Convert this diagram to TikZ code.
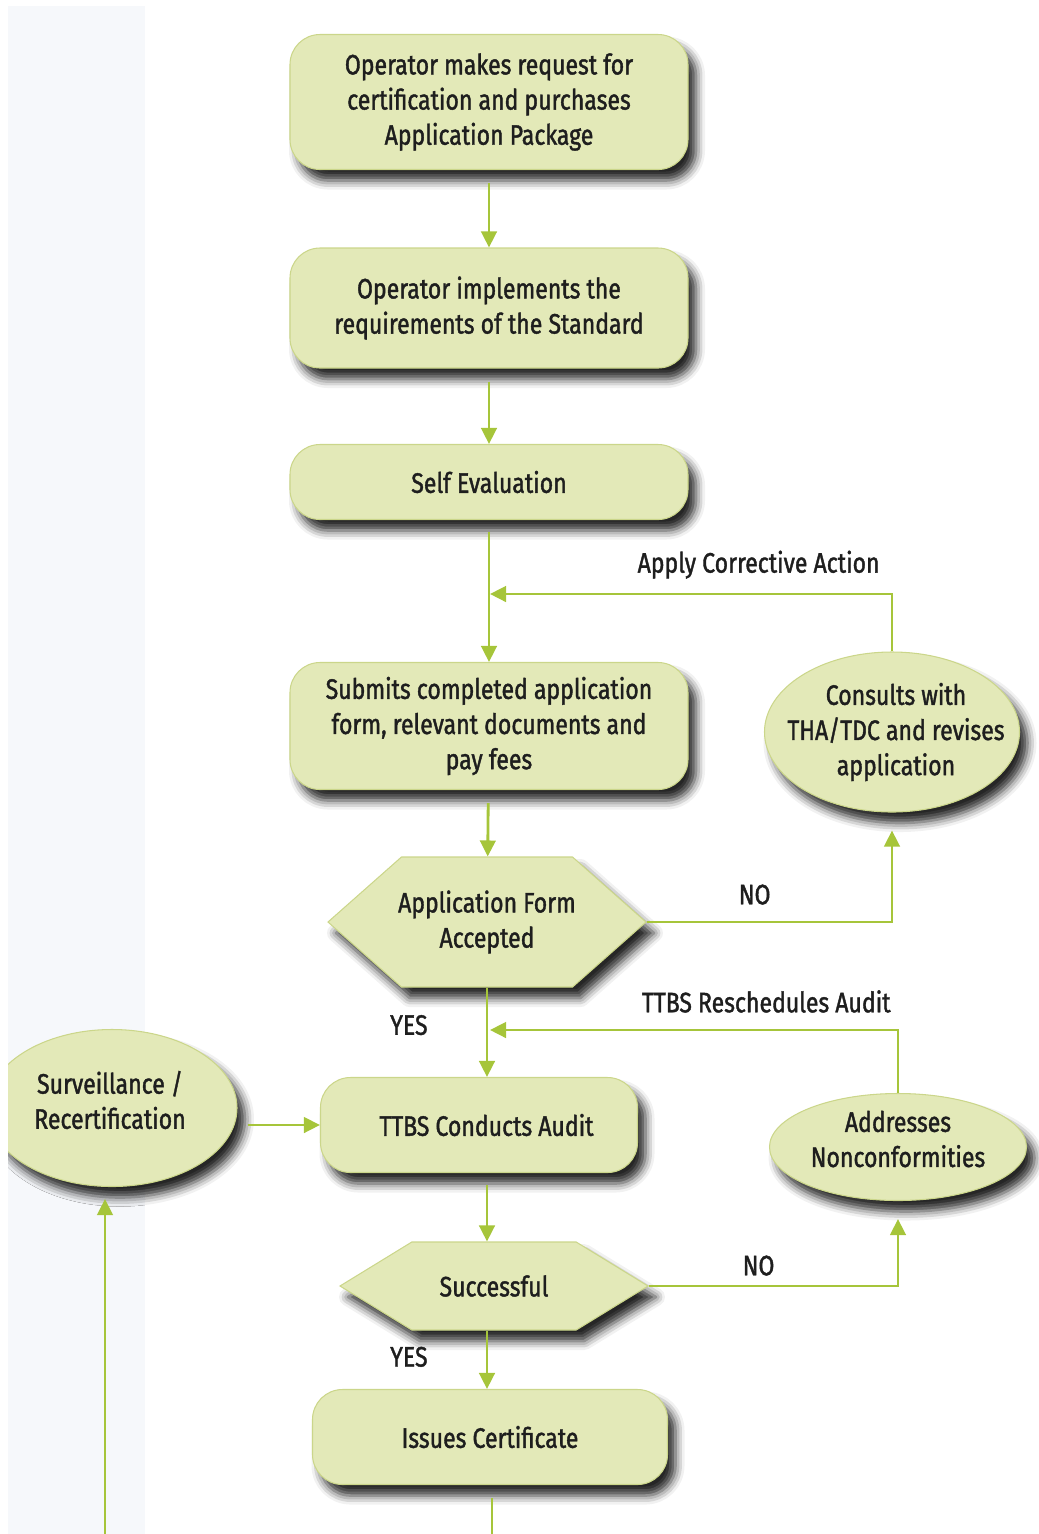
\documentclass[tikz,border=0pt]{standalone}
\usepackage{fontspec}
\setmainfont{Fira Sans}[FakeStretch=0.82, FakeBold=1.4]
\usepackage{tikz}
\usetikzlibrary{arrows.meta, positioning, calc, shapes.geometric, shapes.symbols, shadows.blur}

\definecolor{boxfill}{RGB}{227,233,184}
\definecolor{boxline}{RGB}{203,214,138}
\definecolor{flowgreen}{RGB}{166,197,58}
\definecolor{stripbg}{RGB}{246,248,251}
\definecolor{ink}{RGB}{30,30,30}

\newcommand{\chartfont}{\fontsize{16}{20}\selectfont}

\tikzset{
  shade/.style={blur shadow={shadow xshift=1.6mm, shadow yshift=-2.2mm, shadow blur radius=1.8mm, shadow opacity=85}},
  stepbox/.style={rectangle, rounded corners=6mm, fill=boxfill, draw=boxline, line width=0.6pt, shade,
    minimum width=79.6mm, align=center, text=ink, font=\chartfont},
  oval/.style={ellipse, fill=boxfill, draw=boxline, line width=0.6pt, shade, inner sep=0pt},
  decision/.style={signal, signal to=west and east, fill=boxfill, draw=boxline, line width=0.6pt, shade,
    align=center, text=ink, font=\chartfont},
  flow/.style={draw=flowgreen, line width=1.6pt, -{Triangle[length=3.2mm, width=3.1mm]}},
  lbl/.style={text=ink, font=\chartfont, inner sep=1.2mm, align=center},
}

\begin{document}
\begin{tikzpicture}[x=0.2mm, y=-0.2mm]
    \useasboundingbox (0,0) rectangle (1039,1534);
    \pgfmathsetmacro{\spine}{487}

  % faint strip on the left
    \fill[stripbg] (8,6) rectangle (145,1534);

  \begin{scope}
    \clip (8,0) rectangle (1039,1534);

  % main column
    \node[stepbox, minimum height=27mm] (req) at (489,102) {Operator makes request for\\certification and purchases\\Application Package};
    \node[stepbox, minimum height=24mm] (impl) at (489,308) {Operator implements the\\requirements of the Standard};
    \node[stepbox, minimum height=15mm] (selfeval) at (489,482) {Self Evaluation};
    \node[stepbox, minimum height=25.4mm] (submit) at (489,726) {Submits completed application\\form, relevant documents and\\pay fees};
    \node[decision, minimum width=63.6mm, minimum height=26mm, signal pointer angle=83, inner xsep=-1.1mm] (accepted) at (\spine,922) {Application Form\\Accepted};
    \node[stepbox, minimum width=63.4mm, minimum height=19mm] (audit) at (479,1125) {\hspace*{3mm}TTBS Conducts Audit};
    \node[decision, minimum width=61.6mm, minimum height=17.6mm, signal pointer angle=63] (success) at (494,1286) {Successful};
    \node[stepbox, minimum width=71mm, minimum height=19mm] (cert) at (490,1437) {Issues Certificate};

  % side loops
    \node[oval, minimum width=51mm, minimum height=32mm] (consult) at (892,732) {};
    \node[lbl] (consulttext) at ($(consult)+(4,0)$) {Consults with\\THA/TDC and revises\\application};
    \node[oval, minimum width=51.4mm, minimum height=21.4mm] (fix) at (898,1147) {};
    \node[lbl] (fixtext) at ($(fix)+(0,-8)$) {Addresses\\Nonconformities};
    \node[oval, minimum width=50mm, minimum height=31.4mm] (recert) at (112,1108) {};
    \node[lbl] (recerttext) at ($(recert)+(-2,-8)$) {Surveillance /\\Recertification};

    \coordinate (corr) at (\spine+3,594);
    \coordinate (resched) at (\spine+3,1030);
    \coordinate (certout) at (492,1534);
    \coordinate (recin) at (105,1534);

  % connectors
    \draw[flow, shorten <=2.6mm] (req) -- (impl);
    \draw[flow, shorten <=2.6mm] (impl) -- (selfeval);
    \draw[flow, shorten <=2.4mm] (selfeval) -- (submit);
    \draw[flow, shorten <=2.6mm] (submit) -- (accepted);
    \draw[flow, shorten >=3.6mm] (accepted.east) -| (consult.south) node[lbl, pos=0.22, above, yshift=2mm] {NO};
    \draw[flow] (consult.north) |- (corr) node[lbl, pos=0.5, anchor=south east, inner sep=1.2mm, yshift=1.6mm, xshift=-1mm] {Apply Corrective Action};
    \draw[flow] (accepted.south) -- (audit.north -| accepted.south) node[lbl, pos=0.42, left=10.4mm] {YES};
    \draw[flow] (fix.north) |- (resched) node[lbl, pos=0.5, anchor=south east, inner sep=1.2mm, yshift=2mm] {TTBS Reschedules Audit};
    \draw[flow, shorten <=2mm] (recert.east |- audit.west) -- (audit.west);
    \draw[flow, shorten <=2.4mm] (audit.south -| accepted.south) -- (success.north -| accepted.south);
    \draw[flow, shorten >=3.6mm] (success.east) -| (fix.south) node[lbl, pos=0.22, above, yshift=0.6mm] {NO};
    \draw[flow] (success.south -| accepted.south) -- (cert.north -| accepted.south) node[lbl, pos=0.45, left=10.4mm] {YES};
    \draw[draw=flowgreen, line width=1.6pt, shorten <=2.6mm] (cert.south -| certout) -- (certout);
    \draw[flow, shorten >=2.4mm] (recin) -- (recin |- recert.south);
  \end{scope}

\end{tikzpicture}
\end{document}
